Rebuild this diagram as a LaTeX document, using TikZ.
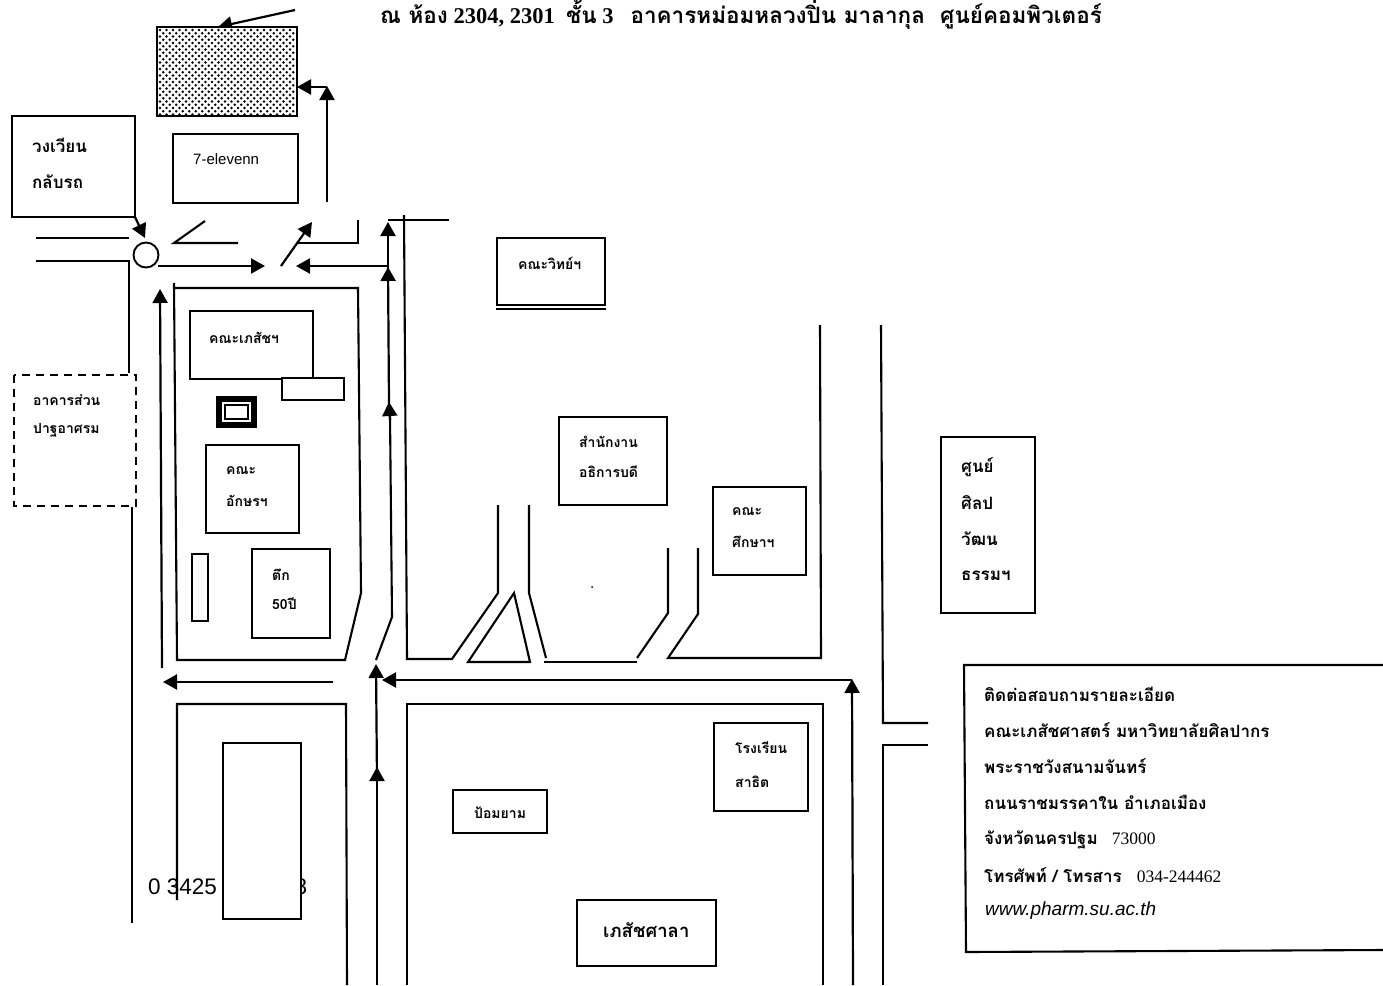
\documentclass[tikz,border=0pt]{standalone}
\usepackage{fontspec}
\usetikzlibrary{arrows.meta}
\setmainfont{Liberation Serif}
\setsansfont{Liberation Sans}
\newfontfamily\thaifont[Script=Thai]{Loma}
\tikzset{
  road/.style={line width=2.1pt,line join=miter},
  arr/.style={line width=2.2pt,-{Triangle[length=14pt,width=15pt]}},
  bld/.style={draw=black,fill=white,line width=1.9pt},
  lab/.style={anchor=west,inner sep=0pt,font=\thaifont\bfseries\fontsize{14}{16}\selectfont},
  labb/.style={anchor=west,inner sep=0pt,font=\thaifont\bfseries\fontsize{17}{20}\selectfont},
  info/.style={anchor=west,inner sep=0pt,font=\thaifont\bfseries\fontsize{17}{20}\selectfont},
}
\newcommand{\infodigits}[1]{{\rmfamily\mdseries\fontsize{17.5}{20}\selectfont #1}}
\begin{document}
\begin{tikzpicture}[x=1pt,y=-1pt]
\useasboundingbox (0,0) rectangle (1383,985);
\fill[white] (0,0) rectangle (1383,985);

% title
\node[anchor=center,inner sep=0pt,font=\bfseries\fontsize{22.5}{26}\selectfont] (title) at (741,15)
  {{\thaifont ณ ห้อง} 2304, 2301\ \ {\thaifont ชั้น} 3\ \ \ {\thaifont อาคารหม่อมหลวงปิ่น มาลากุล\ \ ศูนย์คอมพิวเตอร์}};

% roads
\draw[road] (36,238) -- (129,238);
\draw[road] (36,261) -- (129,261) -- (129,373);
\draw[road] (132,506) -- (132,923);
\draw[road] (205,221) -- (174,243) -- (238,243);
\draw[road] (298,243) -- (358,243) -- (358,220);
\draw[road] (174,283) -- (177,660) -- (345,660) -- (361,593) -- (358,288) -- (175,288);
\draw[road] (177,900) -- (177,704) -- (346,704) -- (347,985);
\draw[road] (407,985) -- (407,704) -- (823,704) -- (823,985);
\draw[road] (404,215) -- (407,659) -- (452,659) -- (498,593) -- (498,505);
\draw[road] (468,662) -- (514,593) -- (530,662) -- cycle;
\draw[road] (529,505) -- (529,593) -- (546,658);
\draw[road] (544,662) -- (637,662);
\draw[road] (637,658) -- (668,613) -- (668,548);
\draw[road] (698,548) -- (698,614) -- (668,658) -- (821,658) -- (820,325);
\draw[road] (881,325) -- (883,723) -- (928,723);
\draw[road] (928,745) -- (883,745) -- (883,985);
\draw[road] (388,220) -- (449,220);
\fill (592,587) circle (1pt);

% arrows
\draw[arr] (295,10) -- (218,27);
\draw[arr] (327,202) -- (327,86);
\draw[arr] (327,87) -- (297,87);
\draw[arr] (135,217) -- (145,238);
\draw[arr] (158,266) -- (265,266);
\draw[arr] (281,266) -- (312,222);
\draw[arr] (388,266) -- (296,266);
\draw[arr] (162,668) -- (160,289);
\draw[arr] (333,682) -- (163,682);
\draw[road] (376,660) -- (392,617) -- (390,415);
\draw[arr] (390,420) -- (389,402);
\draw[arr] (389,404) -- (388,267);
\draw[arr] (388,280) -- (388,222);
\draw[arr] (377,985) -- (377,767);
\draw[arr] (377,780) -- (376,664);
\draw[arr] (853,985) -- (852,679);
\draw[road] (852,680) -- (395,680);
\draw[arr] (396,680) -- (382,680);

% text under the long building
\node[anchor=west,inner sep=0pt,font=\sffamily\fontsize{22.5}{26}\selectfont] (phone) at (148,887) {0 3425};
\node[anchor=center,inner sep=0pt,font=\sffamily\fontsize{22.5}{26}\selectfont] (phoneend) at (301,887) {8};

% top hatched block
\draw[bld,line width=2.4pt] (157,27) rectangle (297,116);
\foreach \r in {0,...,26}{
  \pgfmathsetmacro{\yy}{30+3.25*\r}
  \pgfmathsetmacro{\xoff}{mod(\r,2)*3.2}
  \foreach \c in {0,...,20}{
    \pgfmathsetmacro{\xx}{160+\xoff+6.5*\c}
    \ifdim \xx pt<295pt \fill (\xx,\yy) circle (1.3pt); \fi
  }
}

% buildings
\draw[bld] (173,134) rectangle (298,203);
\node[anchor=west,inner sep=0pt,font=\sffamily\fontsize{15}{17}\selectfont] (seven) at (193,159) {7-elevenn};
\draw[bld] (12,116) rectangle (135,217);
\node[labb] (uturnA) at (32,145) {วงเวียน};
\node[labb] (uturnB) at (32,182) {กลับรถ};
\draw[draw=white,fill=white] (14,375) rectangle (136,506);
\draw[line width=1.2pt,dash pattern=on 8pt off 6pt] (14,375) rectangle (136,506);
\node[lab] (pathaA) at (33,400) {อาคารส่วน};
\node[lab] (pathaB) at (33,430) {ปาฐอาศรม};
\draw[bld] (190,311) rectangle (313,379);
\node[lab] (pharm) at (209,338) {คณะเภสัชฯ};
\draw[bld] (282,378) rectangle (344,400);
\fill (216,396) rectangle (257,428);
\fill[white] (222,402) rectangle (251,422);
\draw[line width=1.5pt] (225,405) rectangle (248,419);
\draw[bld] (206,445) rectangle (299,533);
\node[lab] (artsA) at (226,471) {คณะ};
\node[lab] (artsB) at (226,501) {อักษรฯ};
\draw[bld] (192,554) rectangle (208,621);
\draw[bld] (252,549) rectangle (330,638);
\node[lab] (fiftyA) at (272,575) {ตึก};
\node[lab] (fiftyB) at (272,604) {50ปี};
\draw[bld] (497,238) rectangle (605,305);
\draw[line width=1.5pt] (496,309) -- (606,309);
\node[lab] (sci) at (518,263) {คณะวิทย์ฯ};
\draw[bld] (559,417) rectangle (667,505);
\node[lab] (presA) at (579,442) {สำนักงาน};
\node[lab] (presB) at (579,472) {อธิการบดี};
\draw[bld] (713,487) rectangle (806,575);
\node[lab] (eduA) at (732,512) {คณะ};
\node[lab] (eduB) at (732,542) {ศึกษาฯ};
\draw[bld] (941,437) rectangle (1035,613);
\node[labb] (cultA) at (961,467) {ศูนย์};
\node[labb] (cultB) at (961,503) {ศิลป};
\node[labb] (cultC) at (961,539) {วัฒน};
\node[labb] (cultD) at (961,576) {ธรรมฯ};
\draw[bld] (453,790) rectangle (547,833);
\node[lab] (guard) at (474,813) {ป้อมยาม};
\draw[bld] (714,723) rectangle (808,811);
\node[lab] (schoolA) at (735,748) {โรงเรียน};
\node[lab] (schoolB) at (735,782) {สาธิต};
\draw[bld] (223,743) rectangle (301,919);
\draw[bld] (577,900) rectangle (716,966);
\node[labb,font=\thaifont\bfseries\fontsize{18.5}{22}\selectfont] (sala) at (603,930) {เภสัชศาลา};

% circle
\node[draw,circle,line width=1.9pt,minimum size=25pt,inner sep=0pt] (rnd) at (146,255) {};

% contact
\draw[road] (1383,665) -- (964,665) -- (966,952) -- (1383,950);
\node[info] (c1) at (984,694) {ติดต่อสอบถามรายละเอียด};
\node[info] (c2) at (984,730) {คณะเภสัชศาสตร์ มหาวิทยาลัยศิลปากร};
\node[info] (c3) at (984,766) {พระราชวังสนามจันทร์};
\node[info] (c4) at (984,802) {ถนนราชมรรคาใน อำเภอเมือง};
\node[info] (c5) at (984,840) {จังหวัดนครปฐม\hspace{14pt}\infodigits{73000}};
\node[info] (c6) at (984,875) {โทรศัพท์ / โทรสาร\hspace{15pt}\infodigits{034-244462}};
\node[anchor=west,inner sep=0pt,font=\sffamily\itshape\fontsize{19}{22}\selectfont] (c7) at (985,911) {www.pharm.su.ac.th};
\end{tikzpicture}
\end{document}
